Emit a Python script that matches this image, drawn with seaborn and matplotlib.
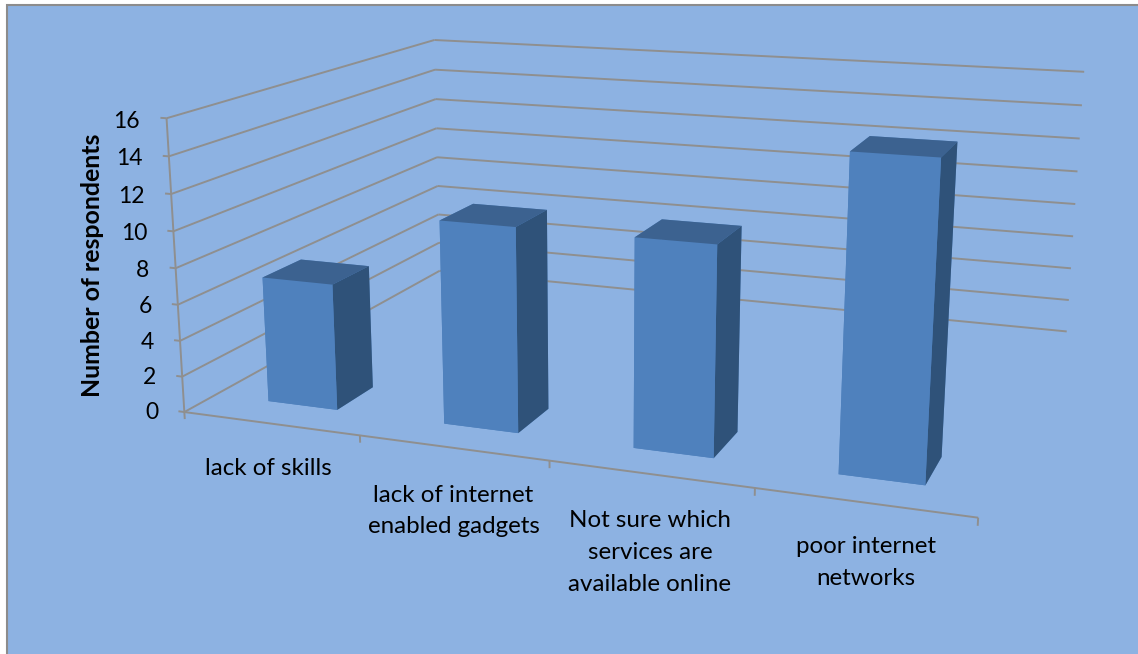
import numpy as np
import seaborn as sns
import matplotlib
matplotlib.use('Agg')
import matplotlib.pyplot as plt
from matplotlib.patches import Rectangle
from mpl_toolkits.mplot3d.art3d import Line3DCollection

categories = ['lack of skills', 'lack of internet\nenabled gadgets',
              'Not sure which\nservices are\navailable online', 'poor internet\nnetworks']
respondents = [7, 11, 11, 16]
y_ticks = [0, 2, 4, 6, 8, 10, 12, 14, 16]

W, H = 1138, 654

sns.set_theme(style='white')
plt.rcParams['font.family'] = ['Lato', 'DejaVu Sans']

BG = '#8DB2E2'
GRID = '#8F8F8F'
FRONT = '#4F81BD'
TOP = '#3C6290'
SIDE = '#2F5279'

# corners of the chart box: (category, depth, value) and where they sit in the image
box_world = np.array([[0, 0, 0], [0, 0, 16], [0, 1, 16], [0, 1, 0],
                      [4, 1, 16], [4, 1, 0], [4, 0, 0]], float)
box_image = np.array([[185, 412], [166, 118], [435, 40], [439, 271],
                      [1084, 72], [1067, 331], [978, 518]], float)


def fit_projection(world, image):
    # plain DLT, gives the 3x4 camera matrix
    rows = []
    for (x, y, z), (u, v) in zip(world, image):
        rows.append([x, y, z, 1, 0, 0, 0, 0, -u * x, -u * y, -u * z, -u])
        rows.append([0, 0, 0, 0, x, y, z, 1, -v * x, -v * y, -v * z, -v])
    P = np.linalg.svd(np.array(rows))[2][-1].reshape(3, 4)
    if P[2] @ [0, 0, 0, 1] < 0:
        P = -P
    P = P / P[2, 3]
    # third row is only used to order the faces
    depth = np.array([-0.15, 1.0, -0.02, 2.0])
    return np.vstack([P[0], P[1], depth, P[2]])


def project(x, y, z):
    u, v, _, w = M @ [x, y, z, 1]
    return u / w, v / w


fig = plt.figure(figsize=(W / 100, H / 100), dpi=100, facecolor='white')
fig.add_artist(Rectangle((7 / W, -0.1), 1.2, 1.1 - 5 / H, transform=fig.transFigure,
                         facecolor=BG, edgecolor='#8C8C8C', linewidth=1.5, zorder=-5))

ax = fig.add_axes([0, 0, 1, 1], projection='3d', computed_zorder=False)
ax.patch.set_alpha(0)
ax.set_axis_off()
M = fit_projection(box_world, box_image)
ax.get_proj = lambda: M
ax.apply_aspect = lambda position=None: None

# walls and ticks
segments = []
for t in y_ticks:
    segments.append([(-0.035, 0, t), (0, 0, t)])
    segments.append([(0, 0, t), (0, 1, t)])
    segments.append([(0, 1, t), (4, 1, t)])
segments.append([(0, 0, 0), (0, 0, 16)])
segments.append([(0, 0, 0), (4, 0, 0)])
for i in range(5):
    segments.append([(i, 0, 0), (i, 0, -0.4)])
ax.add_collection3d(Line3DCollection(segments, colors=GRID, linewidths=1.4, zorder=1))

# bars
n = len(respondents)
xs = np.arange(n) + 0.312
faces = [FRONT, TOP, FRONT, FRONT, FRONT, SIDE] * n
ax.bar3d(xs, np.full(n, 0.10), np.zeros(n), np.full(n, 0.4), np.full(n, 0.13), respondents,
         color=faces, shade=False, linewidth=0, zorder=3)

ax.viewLim.intervalx = (0, W)
ax.viewLim.intervaly = (H, 0)

for t in y_ticks:
    u, v = project(-0.155, 0, t - 0.25)
    ax.text2D(u, v, str(t), transform=ax.transData, ha='right', va='center',
              fontsize=16.5, color='black')

# small nudges in pixels, the labels do not sit exactly under their ticks
label_dx = [-4, 0, 0, 3]
label_dy = [0, 1, -1, -5]
for i, label in enumerate(categories):
    u, v = project(i + 0.5, 0, -1.95)
    ax.text2D(u + label_dx[i], v + label_dy[i], label, transform=ax.transData, ha='center',
              va='top', fontsize=17.4, color='black', linespacing=1.63)
fig.text(93 / W, 1 - 265 / H, 'Number of respondents', rotation=90, ha='center', va='center',
         fontsize=17.9, fontweight='bold', color='black')

fig.savefig('out.png', dpi=100)
